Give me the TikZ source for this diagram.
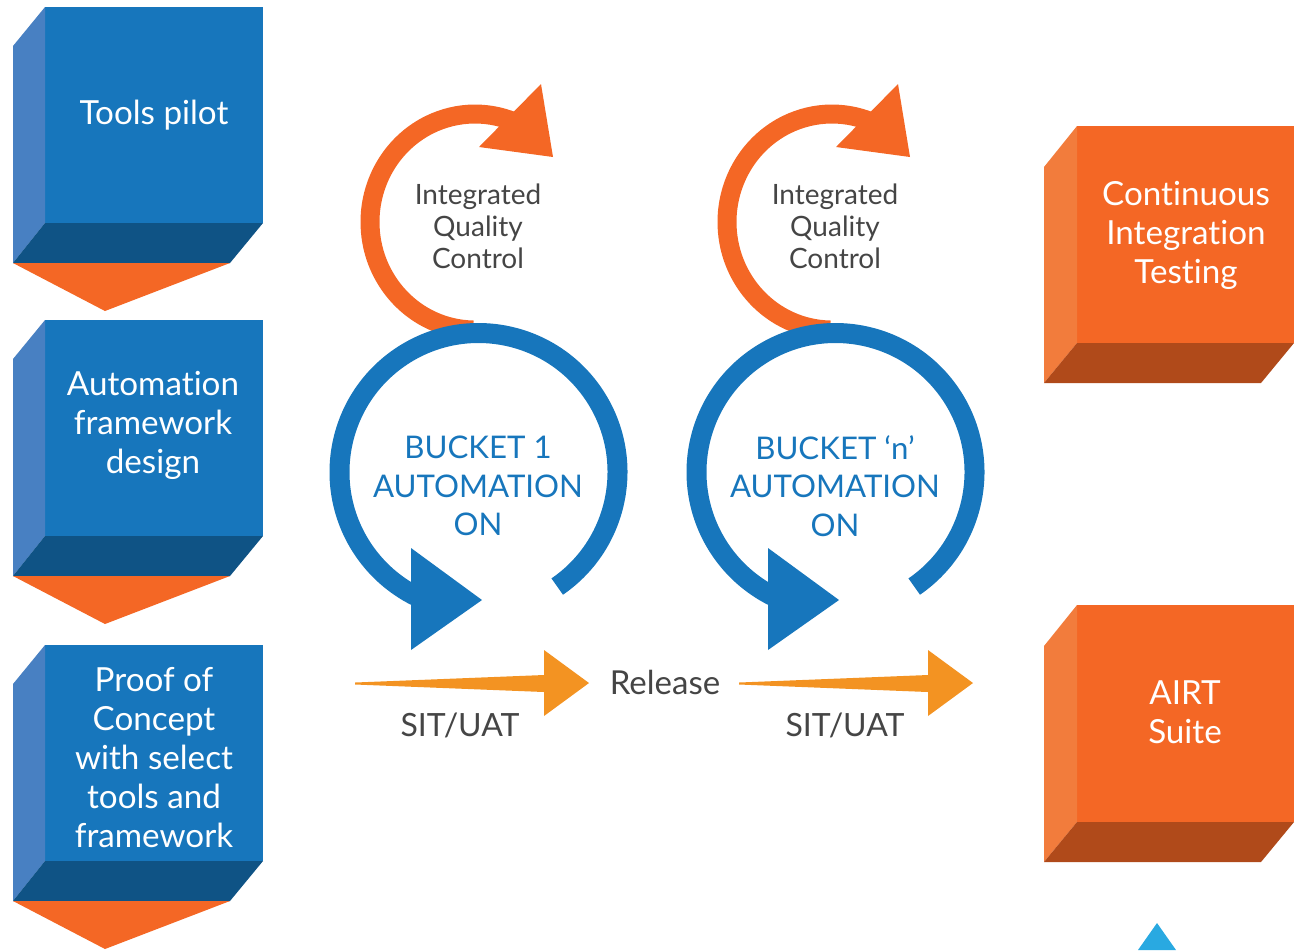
\documentclass[tikz,border=0pt]{standalone}
\usepackage{fontspec}
\setmainfont{Lato}[Ligatures={NoCommon,NoContextual}]
\definecolor{bfront}{HTML}{1776BC}
\definecolor{bside}{HTML}{4880C2}
\definecolor{bbottom}{HTML}{0F5385}
\definecolor{ofront}{HTML}{F46725}
\definecolor{oside}{HTML}{F27C3C}
\definecolor{obottom}{HTML}{B04A1A}
\definecolor{darrow}{HTML}{F46725}
\definecolor{amber}{HTML}{F39322}
\definecolor{txtgray}{HTML}{454545}
\definecolor{cyanblue}{HTML}{29A9E1}
\tikzset{
  boxtext/.style={text=white, align=center, inner sep=0pt, font=\fontsize{16.6}{19.5}\selectfont},
  iqctext/.style={text=txtgray, align=center, inner sep=0pt, font=\fontsize{14}{16}\selectfont},
  buckettext/.style={text=bfront, align=center, inner sep=0pt, font=\fontsize{15.6}{19.25}\selectfont},
  labeltext/.style={text=txtgray, inner sep=0pt, font=\fontsize{16}{19}\selectfont},
  bluearc/.style={draw=bfront, line width=10pt},
  orangearc/.style={draw=ofront, line width=9.5pt}
}
\begin{document}
\begin{tikzpicture}[x=0.5pt,y=-0.5pt]
\useasboundingbox (0,0) rectangle (1301,950);
% blue cubes
\foreach \dy in {0,313,638}{
\begin{scope}[shift={(45,7+\dy)}]
  \fill[bfront] (0,0) rectangle (218,216);
  \fill[bside] (-32,39) -- (0,0) -- (0,216) -- (-32,256) -- cycle;
  \fill[bbottom] (0,216) -- (218,216) -- (185,256) -- (-32,256) -- cycle;
  \fill[darrow] (-32,256) -- (185,256) -- (60,304) -- cycle;
\end{scope}
}
% orange cubes
\foreach \dy in {0,479}{
\begin{scope}[shift={(1077,126+\dy)}]
  \fill[ofront] (0,0) rectangle (217,217);
  \fill[oside] (-33,41) -- (0,0) -- (0,217) -- (-33,257) -- cycle;
  \fill[obottom] (0,217) -- (217,217) -- (184,257) -- (-33,257) -- cycle;
\end{scope}
}
% loops
\foreach \dx in {0,357}{
\begin{scope}[shift={(\dx,0)}]
  \draw[orangearc] (475,222) ++(91:105 and 108) arc[start angle=91, end angle=292, x radius=105, y radius=108];
  \fill[ofront] (541,84) -- (553,157) -- (479,147) -- cycle;
  \draw[bluearc] (478.5,472) ++(55.5:139) arc[start angle=55.5, end angle=-243, radius=139];
  \fill[bfront] (411,548) -- (482,600) -- (411,650) -- cycle;
\end{scope}
}
% SIT/UAT arrows
\foreach \dx in {0,384}{
\begin{scope}[shift={(\dx,0)}]
  \fill[amber] (355,682.5) -- (544,675) -- (544,650) -- (589,683) -- (544,716) -- (544,692) -- (355,684.5) -- cycle;
\end{scope}
}
% small triangle
\fill[cyanblue] (1138,950) -- (1157,923) -- (1176,950) -- cycle;
% texts
\node[boxtext] (t1) at (154,115) {Tools pilot};
\node[boxtext] (t2) at (153,425) {Automation\\framework\\design};
\node[boxtext] (t3) at (154,758) {Proof of\\Concept\\with select\\tools and\\framework};
\node[boxtext] (t4) at (1186,235) {Continuous\\Integration\\Testing};
\node[boxtext] (t5) at (1185,712) {AIRT\\Suite};
\node[iqctext] (q1) at (478,226) {Integrated\\Quality\\Control};
\node[iqctext] (q2) at (835,226) {Integrated\\Quality\\Control};
\node[buckettext] (b1) at (478,486) {BUCKET 1\\AUTOMATION\\ON};
\node[buckettext] (b2) at (835,486) {BUCKET ‘n’\\AUTOMATION\\ON};
\node[labeltext, font=\fontsize{16.5}{19}\selectfont] (r) at (665,682) {Release};
\node[labeltext] (s1) at (460,725) {SIT/UAT};
\node[labeltext] (s2) at (845,725) {SIT/UAT};
\end{tikzpicture}
\end{document}
